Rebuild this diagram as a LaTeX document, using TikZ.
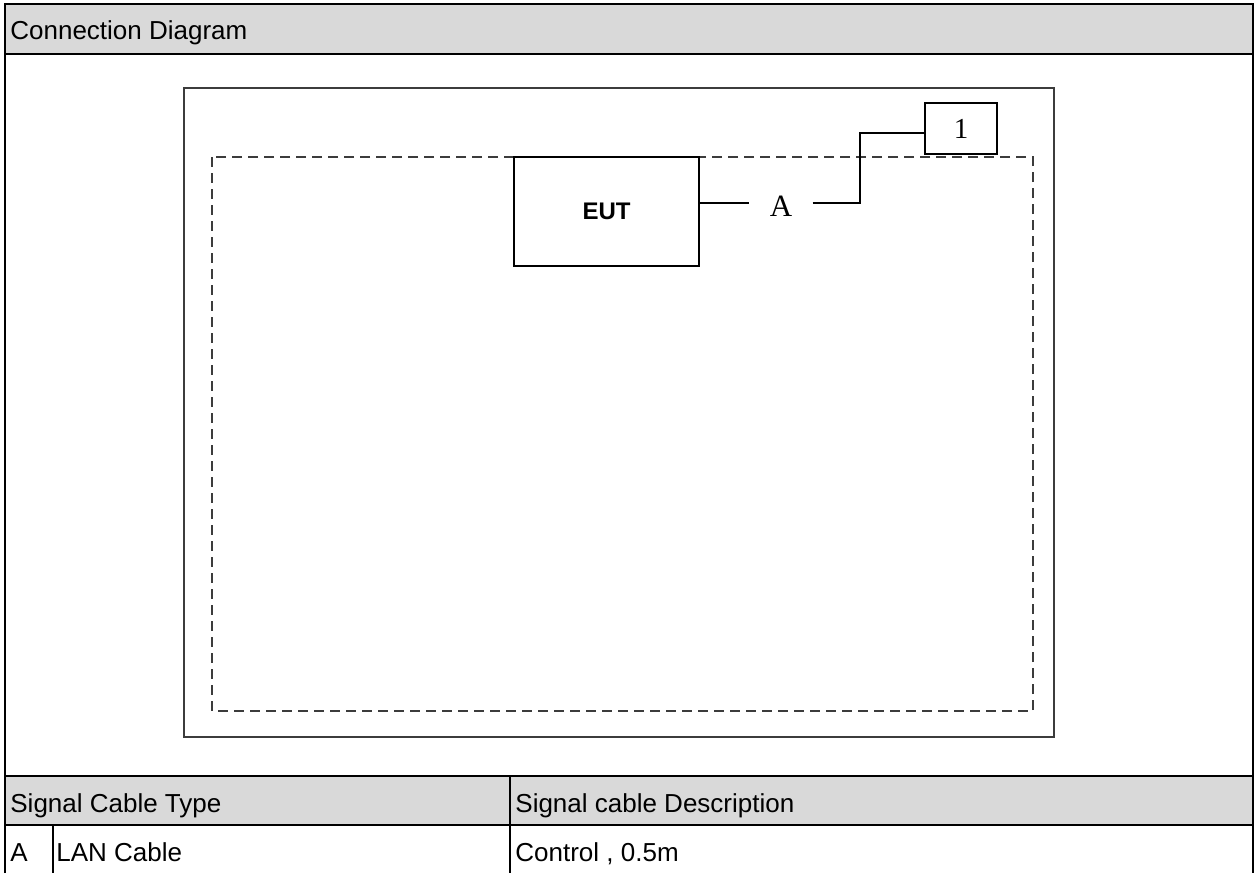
\documentclass[tikz,border=0pt]{standalone}
\usepackage{fontspec}
\setmainfont{Liberation Serif}
\setsansfont{Liberation Sans}
\usepackage{tikz}
\usetikzlibrary{positioning}
\definecolor{HeadGray}{RGB}{217,217,217}
\definecolor{FrameGray}{RGB}{60,60,60}

\begin{document}
\begin{tikzpicture}[
x=0.5pt, y=-0.5pt,
cell/.style={anchor=base west, inner sep=0pt, font=\sffamily\fontsize{13}{15}\selectfont},
grid/.style={draw=black, line width=1pt},
unit/.style={draw=black, fill=white, line width=0.8pt, inner sep=0pt},
cable/.style={draw=black, line width=0.7pt},
shield/.style={draw=FrameGray, line width=1pt, dash pattern=on 5pt off 3pt}
]
\useasboundingbox (0,0) rectangle (1256,873);
% table
\fill[HeadGray] (5,4) rectangle (1253,54);
\fill[HeadGray] (5,776) rectangle (1253,825);
\draw[grid] (5,873) -- (5,4) -- (1253,4) -- (1253,873);
\draw[grid] (5,54) -- (1253,54);
\draw[grid] (5,776) -- (1253,776);
\draw[grid] (5,825) -- (1253,825);
\draw[grid] (510,776) -- (510,873);
\draw[grid] (53,825) -- (53,873);
\node[cell] (title) at (10,39) {Connection Diagram};
\node[cell] (typehead) at (10,812) {Signal Cable Type};
\node[cell] (deschead) at (515,812) {Signal cable Description};
\node[cell] (cableid) at (10,861) {A};
\node[cell] (cabletype) at (56,861) {LAN Cable};
\node[cell] (cabledesc) at (515,861) {Control , 0.5m};
% diagram
\draw[FrameGray, line width=1.3pt] (184,88) rectangle (1054,737);
\draw[shield] (212,157) rectangle (1033,711);
\node[unit, minimum width=92.5pt, minimum height=54.5pt, font=\sffamily\bfseries\fontsize{12}{14}\selectfont] (eut) at (606.5,211.5) {EUT};
\node[unit, minimum width=36pt, minimum height=25.5pt, font=\fontsize{14.5}{16}\selectfont] (unitone) at (961,128.5) {1};
\node[inner xsep=10pt, inner ysep=0pt, font=\fontsize{15.5}{18}\selectfont] (cablelabel) at (781,206) {A};
\coordinate (bend) at (860,203);
\coordinate (bendtop) at (860,133);
\draw[cable] (eut.east |- bend) -- (cablelabel.west |- bend);
\draw[cable] (cablelabel.east |- bend) -- (bend) -- (bendtop) -- (unitone.west |- bendtop);
\end{tikzpicture}
\end{document}
